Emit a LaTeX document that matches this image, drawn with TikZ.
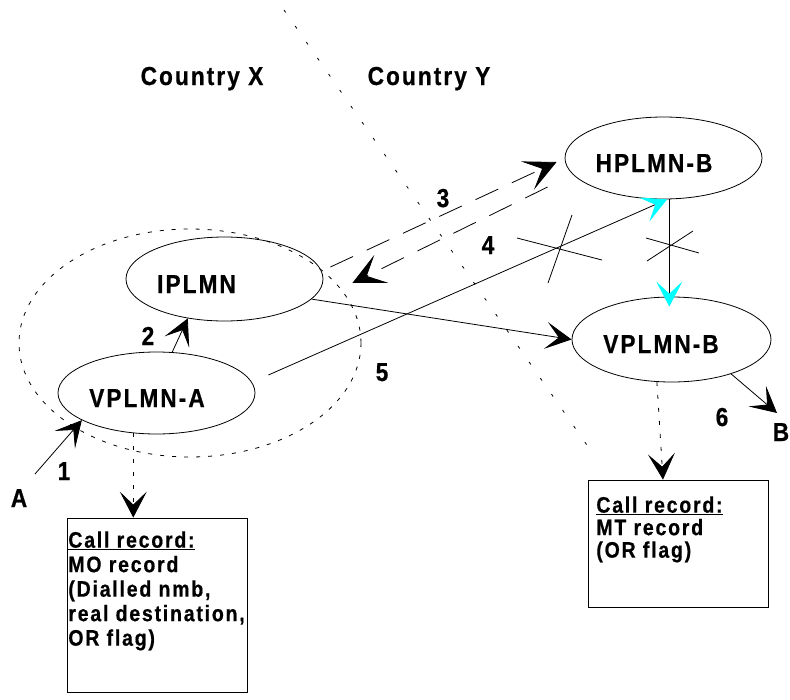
\documentclass[tikz,border=0pt]{standalone}
\usepackage{fontspec}
\setmainfont{Liberation Sans}
\newfontfamily\lblfont[FakeStretch=0.87,LetterSpace=8,BoldFeatures={FakeBold=0.6}]{Liberation Sans}
\usetikzlibrary{shapes.geometric,arrows.meta}
\definecolor{aqua}{RGB}{0,255,255}
\tikzset{
	net/.style={ellipse,draw,line width=0.8pt,minimum width=197pt,minimum height=82pt,inner sep=0pt},
	lbl/.style={font=\lblfont\bfseries\fontsize{26}{28}\selectfont,inner sep=0pt,anchor=base},
	rec/.style={draw,line width=0.8pt,inner sep=0pt,minimum width=180pt},
	rectxt/.style={font=\lblfont\bfseries\fontsize{22.4}{24.5}\selectfont,align=left,anchor=north west,inner sep=0pt},
	head/.style={-{Stealth[length=26pt,width=27pt,inset=13pt]}},
	bighead/.style={-{Stealth[length=32pt,width=31pt,inset=16pt]}},
	cyanhead/.style={-{Stealth[length=25pt,width=26pt,inset=12pt,color=aqua]}},
	dashline/.style={dash pattern=on 25pt off 15pt},
	dotline/.style={dash pattern=on 4pt off 9pt},
	border/.style={dash pattern=on 3pt off 16.5pt},
	area/.style={dash pattern=on 4pt off 8pt}
}
\begin{document}
\begin{tikzpicture}[x=1pt,y=-1pt,line width=0.8pt]
	\useasboundingbox (0,0) rectangle (790,699);
	\draw[border] (284,10) -- (589,448);
	\draw[area] (190,343) ellipse [x radius=171,y radius=114];
	\node (Cx) at (202,85) [lbl] {Country X};
	\node (Cy) at (429,85) [lbl] {Country Y};
	\node (Va) at (156.5,393) [net] {};
	\node (Ip) at (224.5,279) [net,minimum height=84pt] {};
	\node (Hp) at (663.5,158) [net] {};
	\node (Vb) at (671.5,339.5) [net,minimum width=199pt,minimum height=85pt] {};
	\node (VaT) at (147,407) [lbl] {VPLM\kern2pt N-A};
	\node (IpT) at (196.5,293) [lbl] {IPLM\kern2pt N};
	\node (HpT) at (654,172) [lbl] {HPLM\kern2pt N-B};
	\node (VbT) at (661,353) [lbl] {VPLM\kern2pt N-B};
	\node (Ra) at (157,605) [rec,minimum height=174pt] {};
	\node (RaT) at (68,531) [rectxt] {\underline{Call record:}\\MO record\\(Dialled nmb,\\real destination,\\OR flag)};
	\node (Rb) at (678,543.5) [rec,minimum height=127pt] {};
	\node (RbT) at (596,496) [rectxt,font=\lblfont\bfseries\fontsize{22.4}{22.5}\selectfont] {\underline{Call record:}\\MT record\\(OR flag)};
	\coordinate (A) at (35,474);
	\coordinate (B) at (777,413);
	\node (At) at (19,507) [lbl] {A};
	\node (Bt) at (781,441) [lbl] {B};
	\node (N1) at (64,480) [lbl] {1};
	\node (N2) at (148,345) [lbl] {2};
	\node (N3) at (443,207) [lbl] {3};
	\node (N4) at (488,254) [lbl] {4};
	\node (N5) at (382,381) [lbl] {5};
	\node (N6) at (722,426) [lbl] {6};
	\draw[head] (A) -- (Va.200.6);
	\draw[head] (Va.69) -- (Ip.227);
	\draw[head] (Ip.-13) -- (Vb.west);
	\draw[head] (Vb.-30) -- (B);
	\draw[bighead,dashline] ([shift={(7,-12)}]Ip.east) -- ([shift={(-8,4)}]Hp.west);
	\draw[bighead,dashline] ([shift={(-17,29)}]Hp.west) -- ([shift={(29,4)}]Ip.east);
	\draw[cyanhead] ([shift={(13,-18)}]Va.east) -- (Hp.275);
	\draw[cyanhead,shorten >=-10pt] (Hp.278) -- (Hp.278 |- Vb.north);
	\draw[head,dotline] (Va.240) -- (Va.240 |- Ra.north);
	\draw[head,dotline] (Vb.251) -- ([xshift=-15pt]Rb.north);
	\draw (517,238) -- (602,260) (548,283) -- (572,215);
	\draw (647,261) -- (693,231) (646,238) -- (699,253);
\end{tikzpicture}
\end{document}
